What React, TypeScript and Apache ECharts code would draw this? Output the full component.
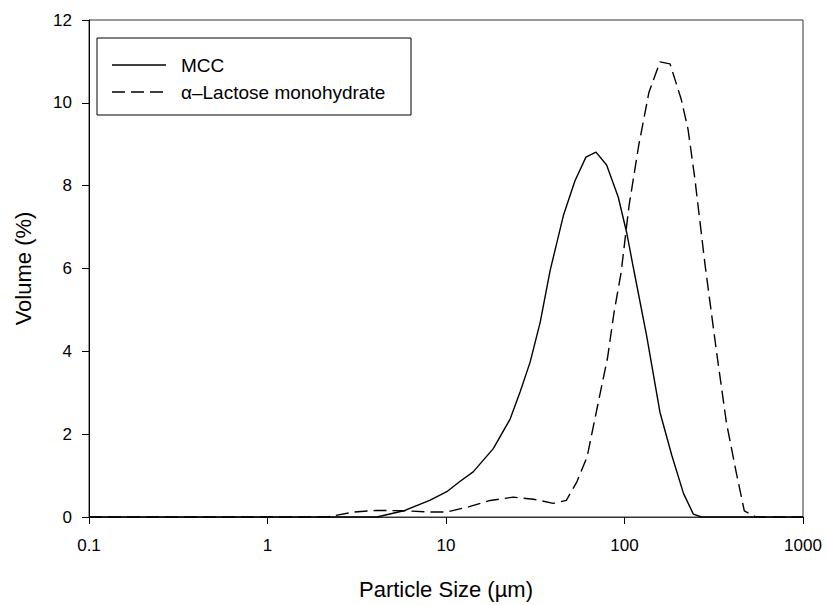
import React, { useEffect, useRef } from "react";
import * as echarts from "echarts";

// Particle sizes (µm) and volume (%)
const mccSizes = [0.1, 4.1, 5.8, 8.1, 10.1, 11.9, 14.2, 18.4, 22.9, 26.0, 29.6, 33.7, 38.3, 45.6, 52.8, 60.8, 69.2, 79.4, 92.3, 102.8, 112, 133, 158, 184, 214, 243, 270, 1000];
const mccVolume = [0, 0, 0.15, 0.40, 0.61, 0.85, 1.09, 1.65, 2.37, 3.02, 3.74, 4.70, 5.95, 7.30, 8.12, 8.69, 8.81, 8.50, 7.72, 6.87, 6.03, 4.38, 2.53, 1.49, 0.57, 0.07, 0, 0];

const lactoseSizes = [0.1, 2.15, 3.04, 4.08, 5.8, 8.1, 10.1, 13.5, 17.7, 23.8, 30.9, 39.9, 47.2, 54.1, 61.7, 70.4, 80.4, 87.4, 95.7, 106, 120, 137, 158, 180, 208, 227, 248, 283, 328, 372, 422, 469, 545, 1000];
const lactoseVolume = [0, 0, 0.12, 0.16, 0.15, 0.12, 0.12, 0.25, 0.40, 0.48, 0.43, 0.33, 0.40, 0.85, 1.45, 2.65, 3.85, 4.94, 5.90, 7.51, 8.96, 10.25, 10.99, 10.94, 10.08, 9.36, 8.16, 6.07, 3.98, 2.29, 1.09, 0.15, 0, 0];

const seriesNames = ["MCC", "\u03b1\u2013Lactose monohydrate"];
const xAxisTitle = "Particle Size (\u00b5m)";
const yAxisTitle = "Volume (%)";

const FONT = "'Liberation Sans', Arial, sans-serif";
const DASH = [13, 6];

export default function App() {
  const ref = useRef<HTMLDivElement>(null);
  useEffect(() => {
    if (!ref.current) return;
    const chart = echarts.init(ref.current, undefined, { renderer: "svg" });
    const mccData = mccSizes.map((s, i) => [s, mccVolume[i]]);
    const lacData = lactoseSizes.map((s, i) => [s, lactoseVolume[i]]);
    const legendRows = [
      { name: seriesNames[0], y: 65, dash: null as number[] | null },
      { name: seriesNames[1], y: 92, dash: DASH },
    ];
    const legendGraphics: any[] = [
      {
        type: "rect",
        shape: { x: 97, y: 38, width: 314, height: 77 },
        style: { fill: "#fff", stroke: "#000", lineWidth: 1 },
        z: 10,
      },
    ];
    legendRows.forEach((r) => {
      legendGraphics.push({
        type: "line",
        shape: { x1: 112, y1: r.y, x2: 166, y2: r.y },
        style: { stroke: "#000", lineWidth: 1.4, lineDash: r.dash || undefined },
        z: 11,
      });
      legendGraphics.push({
        type: "text",
        x: 181,
        y: r.y,
        style: {
          text: r.name,
          fontSize: 19,
          fontFamily: FONT,
          fill: "#000",
          verticalAlign: "middle",
          align: "left",
        },
        z: 11,
      });
    });
    chart.setOption({
      animation: false,
      backgroundColor: "#fff",
      textStyle: { fontFamily: FONT },
      grid: {
        left: 89,
        top: 20,
        right: 24,
        bottom: 86,
        show: true,
        borderColor: "#333",
        borderWidth: 1,
        backgroundColor: "transparent",
      },
      graphic: legendGraphics,
      xAxis: {
        type: "log",
        logBase: 10,
        min: 0.1,
        max: 1000,
        name: xAxisTitle,
        nameLocation: "middle",
        nameGap: 61,
        nameTextStyle: { fontSize: 22, color: "#000", fontFamily: FONT },
        axisLine: { show: true, lineStyle: { color: "#333", width: 1 } },
        axisTick: { show: true, inside: false, length: 7, lineStyle: { color: "#000" } },
        minorTick: { show: false },
        splitLine: { show: false },
        axisLabel: {
          fontSize: 17,
          color: "#000",
          margin: 20,
          fontFamily: FONT,
          formatter: (v: number) => String(Number(v.toPrecision(6))),
        },
      },
      yAxis: {
        type: "value",
        min: 0,
        max: 12,
        interval: 2,
        name: yAxisTitle,
        nameLocation: "middle",
        nameGap: 55,
        nameTextStyle: { fontSize: 22, color: "#000", fontFamily: FONT },
        axisLine: { show: true, lineStyle: { color: "#000", width: 1 } },
        axisTick: { show: true, inside: false, length: 7, lineStyle: { color: "#000" } },
        splitLine: { show: false },
        axisLabel: { fontSize: 17, color: "#000", margin: 17, fontFamily: FONT },
      },
      series: [
        {
          name: seriesNames[0],
          type: "line",
          data: mccData,
          symbol: "none",
          showSymbol: false,
          lineStyle: { color: "#000", width: 1.4, type: "solid" },
          itemStyle: { color: "#000" },
        },
        {
          name: seriesNames[1],
          type: "line",
          data: lacData,
          symbol: "none",
          showSymbol: false,
          lineStyle: { color: "#000", width: 1.4, type: DASH },
          itemStyle: { color: "#000" },
        },
      ],
    });
    return () => chart.dispose();
  }, []);
  return (
    <div
      ref={ref}
      style={{ position: "fixed", left: 0, top: 0, width: 827, height: 605, background: "#fff" }}
    />
  );
}
